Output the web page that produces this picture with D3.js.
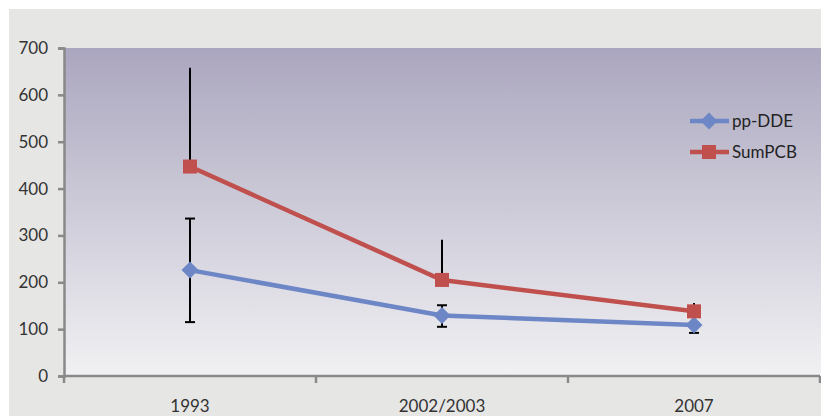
<!DOCTYPE html>
<html><head><meta charset="utf-8">
<script src="https://cdn.jsdelivr.net/npm/d3@7"></script>
<style>html,body{margin:0;padding:0;background:#fff;}svg{display:block;}</style>
</head><body>
<script>
const categories = ["1993", "2002/2003", "2007"];
const ppDDE = [226, 129, 109];
const sumPCB = [447, 205, 138];
const ppDDEErrUp = [110, 22, 0];
const ppDDEErrDown = [111, 24, 17];
const sumPCBErrUp = [211, 86, 18];
const yTicks = [0, 100, 200, 300, 400, 500, 600, 700];
const seriesNames = ["pp-DDE", "SumPCB"];

(function () {
const W = 821, H = 416;
const svg = d3.select("body").append("svg").attr("width", W).attr("height", H);
svg.append("rect").attr("x", 9).attr("y", 9).attr("width", W - 9).attr("height", H - 9).attr("fill", "#e6e6e5");

const mL = 64, mR = 820, mT = 48, mB = 376;
const x = d3.scaleBand().domain(categories).range([mL, mR]);
const y = d3.scaleLinear().domain([0, 700]).range([mB, mT]);

const defs = svg.append("defs");
const grad = defs.append("linearGradient").attr("id", "bg").attr("x1", 0).attr("y1", 0).attr("x2", 0).attr("y2", 1);
grad.append("stop").attr("offset", "0%").attr("stop-color", "#aba6bf");
grad.append("stop").attr("offset", "100%").attr("stop-color", "#f1f1f3");
svg.append("rect").attr("x", mL).attr("y", mT).attr("width", W - mL).attr("height", mB - mT).attr("fill", "url(#bg)");

const font = "Lato, 'Open Sans', sans-serif";

const yAxis = svg.append("g").attr("transform", `translate(${mL},0)`)
  .call(d3.axisLeft(y).tickValues(yTicks).tickSize(6).tickPadding(10));
const xAxis = svg.append("g").attr("transform", `translate(0,${mB})`)
  .call(d3.axisBottom(x).tickSize(0).tickPadding(24));
[yAxis, xAxis].forEach(g => {
  g.selectAll("path.domain").attr("stroke", "#8a8889").attr("stroke-width", 2.5);
  g.selectAll("line").attr("stroke", "#8a8889").attr("stroke-width", 2.5);
  g.selectAll("text").attr("fill", "#333").style("font-family", font).style("font-size", "17px");
});
xAxis.select("path.domain").attr("d", `M${mL},0H${mR}`);
const edges = categories.map(c => x(c)).concat([x(categories[categories.length - 1]) + x.bandwidth()]);
xAxis.selectAll("line.edge").data(edges).enter().append("line").attr("class", "edge")
  .attr("x1", d => d).attr("x2", d => d).attr("y1", 0).attr("y2", 7)
  .attr("stroke", "#8a8889").attr("stroke-width", 2.5);

const cx = c => x(c) + x.bandwidth() / 2;

const eb = svg.append("g").attr("stroke", "#000").attr("stroke-width", 2);
categories.forEach((c, i) => {
  const X = cx(c);
  eb.append("line").attr("x1", X).attr("x2", X).attr("y1", y(sumPCB[i])).attr("y2", y(sumPCB[i] + sumPCBErrUp[i]));
  const hi = ppDDE[i] + ppDDEErrUp[i], lo = ppDDE[i] - ppDDEErrDown[i];
  eb.append("line").attr("x1", X).attr("x2", X).attr("y1", y(hi)).attr("y2", y(lo));
  [hi, lo].forEach(v => {
    if (v !== ppDDE[i]) eb.append("line").attr("x1", X - 5).attr("x2", X + 5).attr("y1", y(v)).attr("y2", y(v));
  });
});

const blue = "#6c86c6", red = "#c0504d";
const line = d3.line().x((d, i) => cx(categories[i])).y(d => y(d));
svg.append("path").datum(ppDDE).attr("d", line).attr("fill", "none").attr("stroke", blue).attr("stroke-width", 4.5);
svg.append("path").datum(sumPCB).attr("d", line).attr("fill", "none").attr("stroke", red).attr("stroke-width", 4.5);

function drawDiamond(g, X, Y) {
  g.append("rect").attr("x", -6).attr("y", -6).attr("width", 12).attr("height", 12)
    .attr("transform", `translate(${X},${Y}) rotate(45)`).attr("fill", blue);
}
function drawSquare(g, X, Y) {
  g.append("rect").attr("x", X - 7).attr("y", Y - 7).attr("width", 14).attr("height", 14).attr("fill", red);
}
const mk = svg.append("g");
ppDDE.forEach((v, i) => drawDiamond(mk, cx(categories[i]), y(v)));
sumPCB.forEach((v, i) => drawSquare(mk, cx(categories[i]), y(v)));

const lg = svg.append("g");
const legY = [121, 152];
seriesNames.forEach((n, i) => {
  const col = i === 0 ? blue : red;
  lg.append("line").attr("x1", 690).attr("x2", 729).attr("y1", legY[i]).attr("y2", legY[i]).attr("stroke", col).attr("stroke-width", 4.5);
  if (i === 0) drawDiamond(lg, 709, legY[i]); else drawSquare(lg, 709, legY[i]);
  lg.append("text").attr("x", 732).attr("y", legY[i]).attr("dy", "0.35em").text(n)
    .attr("fill", "#222").style("font-family", font).style("font-size", "17px");
});
})();
</script>
</body></html>
